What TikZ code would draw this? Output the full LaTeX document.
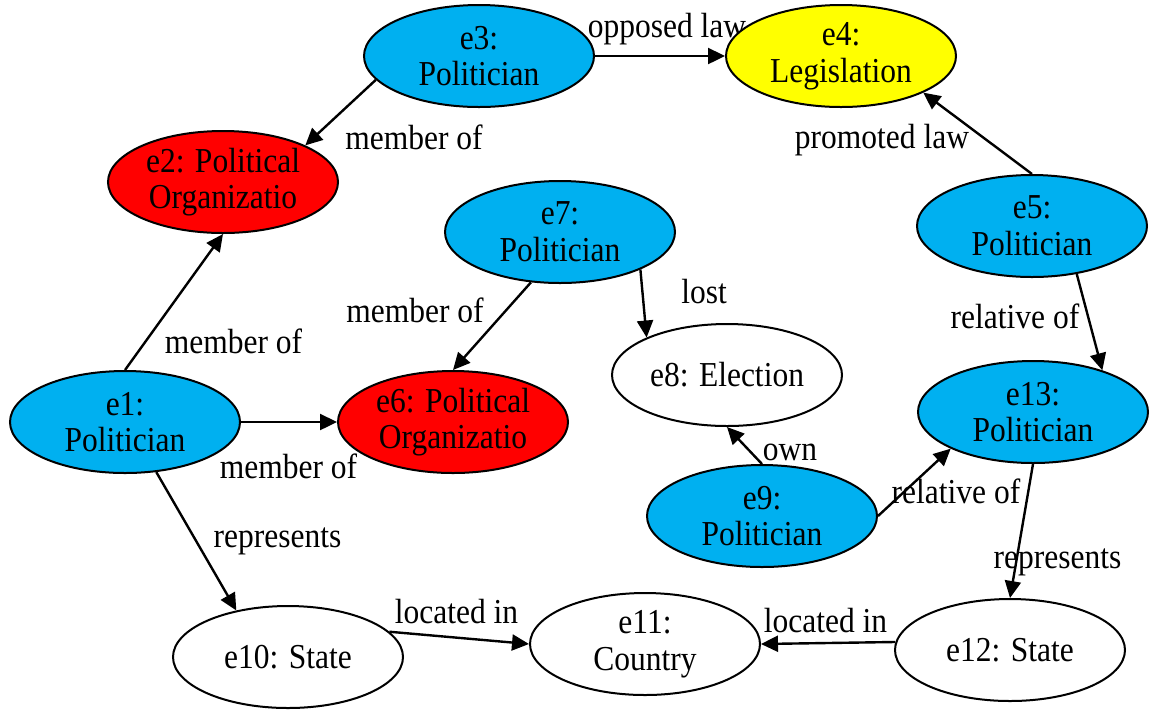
\documentclass[tikz,border=0pt]{standalone}
\usepackage{fontspec}
\setmainfont{Liberation Serif}[FakeStretch=0.9]
\usetikzlibrary{shapes.geometric,arrows.meta}
\definecolor{polblue}{HTML}{00B0F0}
\definecolor{orgred}{HTML}{FF0000}
\definecolor{legyel}{HTML}{FFFF00}
\tikzset{
  ent/.style={ellipse, draw=black, line width=1pt, minimum width=115pt, minimum height=51pt,
    inner sep=0pt, align=center, font=\fontsize{17.5}{18.3}\selectfont, fill=white},
  pol/.style={ent, fill=polblue},
  org/.style={ent, fill=orgred},
  leg/.style={ent, fill=legyel},
  lab/.style={anchor=base, inner sep=0pt, font=\fontsize{17.5}{18.3}\selectfont},
  arr/.style={line width=1.2pt, -{Triangle[length=8.5pt,width=8pt]}}
}
\begin{document}
\begin{tikzpicture}[x=0.5pt,y=-0.5pt]
\useasboundingbox (0,0) rectangle (1151,709);
% edge labels (drawn beneath nodes and edges)
\node[lab] (l32) at (414,149) {member of};
\node[lab] (l34) at (667,37) {opposed law};
\node[lab] (l54) at (882,148) {promoted law};
\node[lab] (l12) at (233.5,353) {member of};
\node[lab] (l76) at (415,322) {member of};
\node[lab] (l16) at (288.5,478) {member of};
\node[lab] (l110) at (277.5,547) {represents};
\node[lab] (l1011) at (456.5,623) {located in};
\node[lab] (l78) at (704,303) {lost};
\node[lab] (l513) at (1015,328) {relative of};
\node[lab] (l98) at (790,460) {own};
\node[lab] (l913) at (956,503) {relative of};
\node[lab] (l1312) at (1057.5,568) {represents};
\node[lab] (l1211) at (825.5,632) {located in};
% entities
\node[pol] (e1) at (125,422) {e1:\\Politician};
\node[org] (e2) at (223,182) {e2: Political\\Organizatio};
\node[pol] (e3) at (479,56) {e3:\\Politician};
\node[leg] (e4) at (841,56) {e4:\\Legislation};
\node[pol] (e5) at (1032,226) {e5:\\Politician};
\node[org] (e6) at (453,422) {e6: Political\\Organizatio};
\node[pol] (e7) at (560,232) {e7:\\Politician};
\node[ent] (e8) at (727,375) {e8: Election};
\node[pol] (e9) at (762,516) {e9:\\Politician};
\node[ent] (e10) at (288,657) {e10: State};
\node[ent] (e11) at (645,644) {e11:\\Country};
\node[ent] (e12) at (1010,650) {e12: State};
\node[pol] (e13) at (1033,412) {e13:\\Politician};
% relations
\draw[arr] (e3.193.5) -- (e2.24);
\draw[arr] (e3.east) -- (e4.west);
\draw[arr] (e5.north) -- (e4.336);
\draw[arr] (e1.north) -- (e2.south);
\draw[arr] (e1.east) -- (e6.west);
\draw[arr] (e7.240.5) -- (e6.north);
\draw[arr] (e7.335) -- (e8.155);
\draw[arr] (e5.313) -- (e13.31);
\draw[arr] (e9.north) -- (e8.south);
\draw[arr] (e9.east) -- (e13.204.6);
\draw[arr] (e1.302.6) -- (e10.138.4);
\draw[arr] (e10.14.7) -- (e11.west);
\draw[arr] (e13.south) -- (e12.north);
\draw[arr] (e12.176.5) -- (e11.east);
\end{tikzpicture}
\end{document}
